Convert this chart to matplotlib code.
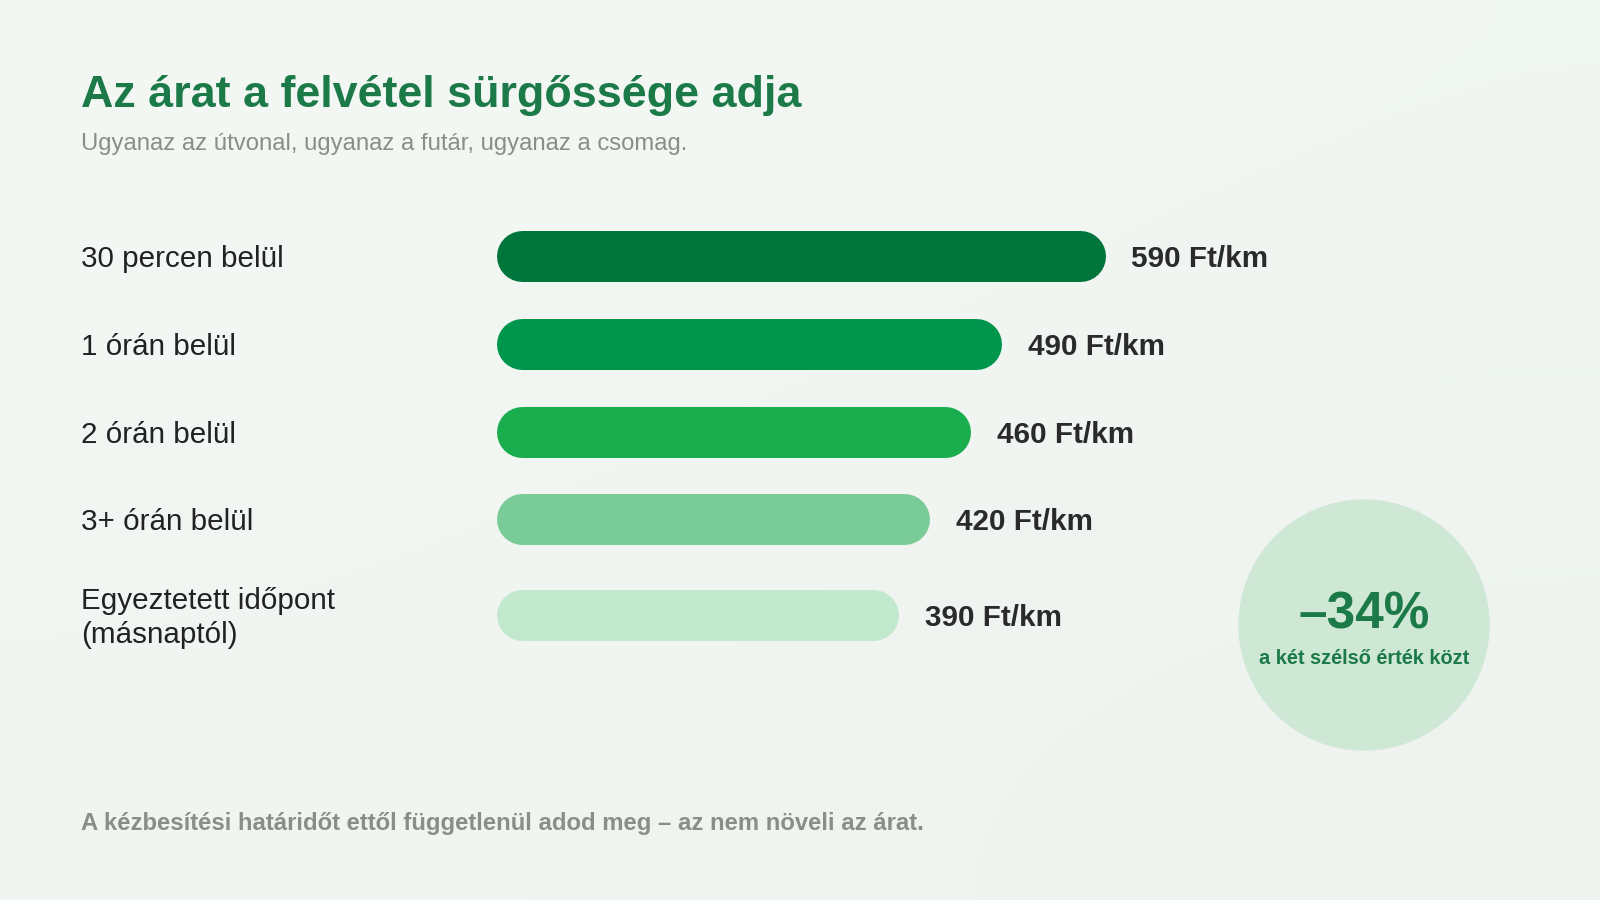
import matplotlib.pyplot as plt
import numpy as np
from matplotlib.patches import Circle

plt.rcParams['font.family'] = ['Liberation Sans', 'DejaVu Sans']

# data
categories = ['30 percen belül', '1 órán belül', '2 órán belül', '3+ órán belül',
              'Egyeztetett időpont\n(másnaptól)']
prices = [590, 490, 460, 420, 390]
unit = 'Ft/km'
change_label = '–34%'
change_note = 'a két szélső érték közt'
title = 'Az árat a felvétel sürgőssége adja'
subtitle = 'Ugyanaz az útvonal, ugyanaz a futár, ugyanaz a csomag.'
footer = 'A kézbesítési határidőt ettől függetlenül adod meg – az nem növeli az árat.'

# layout / style
W, H = 1600, 900
row_y = [256, 344, 432, 519, 615]          # row centres, px from top
bar_colors = ['#00763d', '#00954c', '#1aad4e', '#79cc97', '#c2e8cd']
green = '#1b7a48'
grey = '#8a8e8b'
dark = '#222222'
bar_h = 51                                 # px
bar_left = 496
px_per_unit = 609 / 590
text_nudge = 3                             # va='center' sits a bit high

fig = plt.figure(figsize=(16, 9), dpi=100)

# background in pixel coordinates
bg = fig.add_axes([0, 0, 1, 1])
bg.set_xlim(0, W)
bg.set_ylim(H, 0)
bg.axis('off')
grad = np.array([[[0.957, 0.973, 0.961], [0.945, 0.965, 0.950]],
                 [[0.945, 0.963, 0.949], [0.933, 0.953, 0.937]]])
bg.imshow(grad, extent=[0, W, H, 0], interpolation='bicubic', aspect='auto', zorder=0)

bg.text(81, 107, title, fontsize=32.3, fontweight='bold', color=green, va='baseline')
bg.text(81, 150, subtitle, fontsize=17.2, color=grey, va='baseline')
bg.text(81, 830, footer, fontsize=17.2, fontweight='bold', color=grey, va='baseline')

for lab, y in zip(categories, row_y):
    bg.text(81, y + text_nudge, lab, fontsize=21.3, color=dark, va='center',
            linespacing=1.28)

# summary circle
bg.add_patch(Circle((1364, 625), 125, color='#cfe8d6', zorder=1))
bg.text(1364, 615, change_label, fontsize=37, fontweight='bold', color=green,
        ha='center', va='center', zorder=2)
bg.text(1364, 659, change_note, fontsize=14.4, fontweight='bold', color=green,
        ha='center', va='center', zorder=2)

# bars: value axis
ax_w = 1000
ax = fig.add_axes([bar_left / W, 0, ax_w / W, 1])
ax.set_xlim(0, ax_w / px_per_unit)
ax.set_ylim(H, 0)
ax.axis('off')
ax.patch.set_alpha(0)

cap = (bar_h / 2) / px_per_unit
lw = bar_h * 72 / 100
for v, y, c in zip(prices, row_y, bar_colors):
    ax.plot([cap, v - cap], [y, y], color=c, lw=lw, solid_capstyle='round')
    ax.annotate(f'{v} {unit}', (v, y + text_nudge), xytext=(19, 0),
                textcoords='offset points', fontsize=21.3, fontweight='bold',
                color='#2a2a2a', va='center')

fig.savefig('out.png', dpi=100)
